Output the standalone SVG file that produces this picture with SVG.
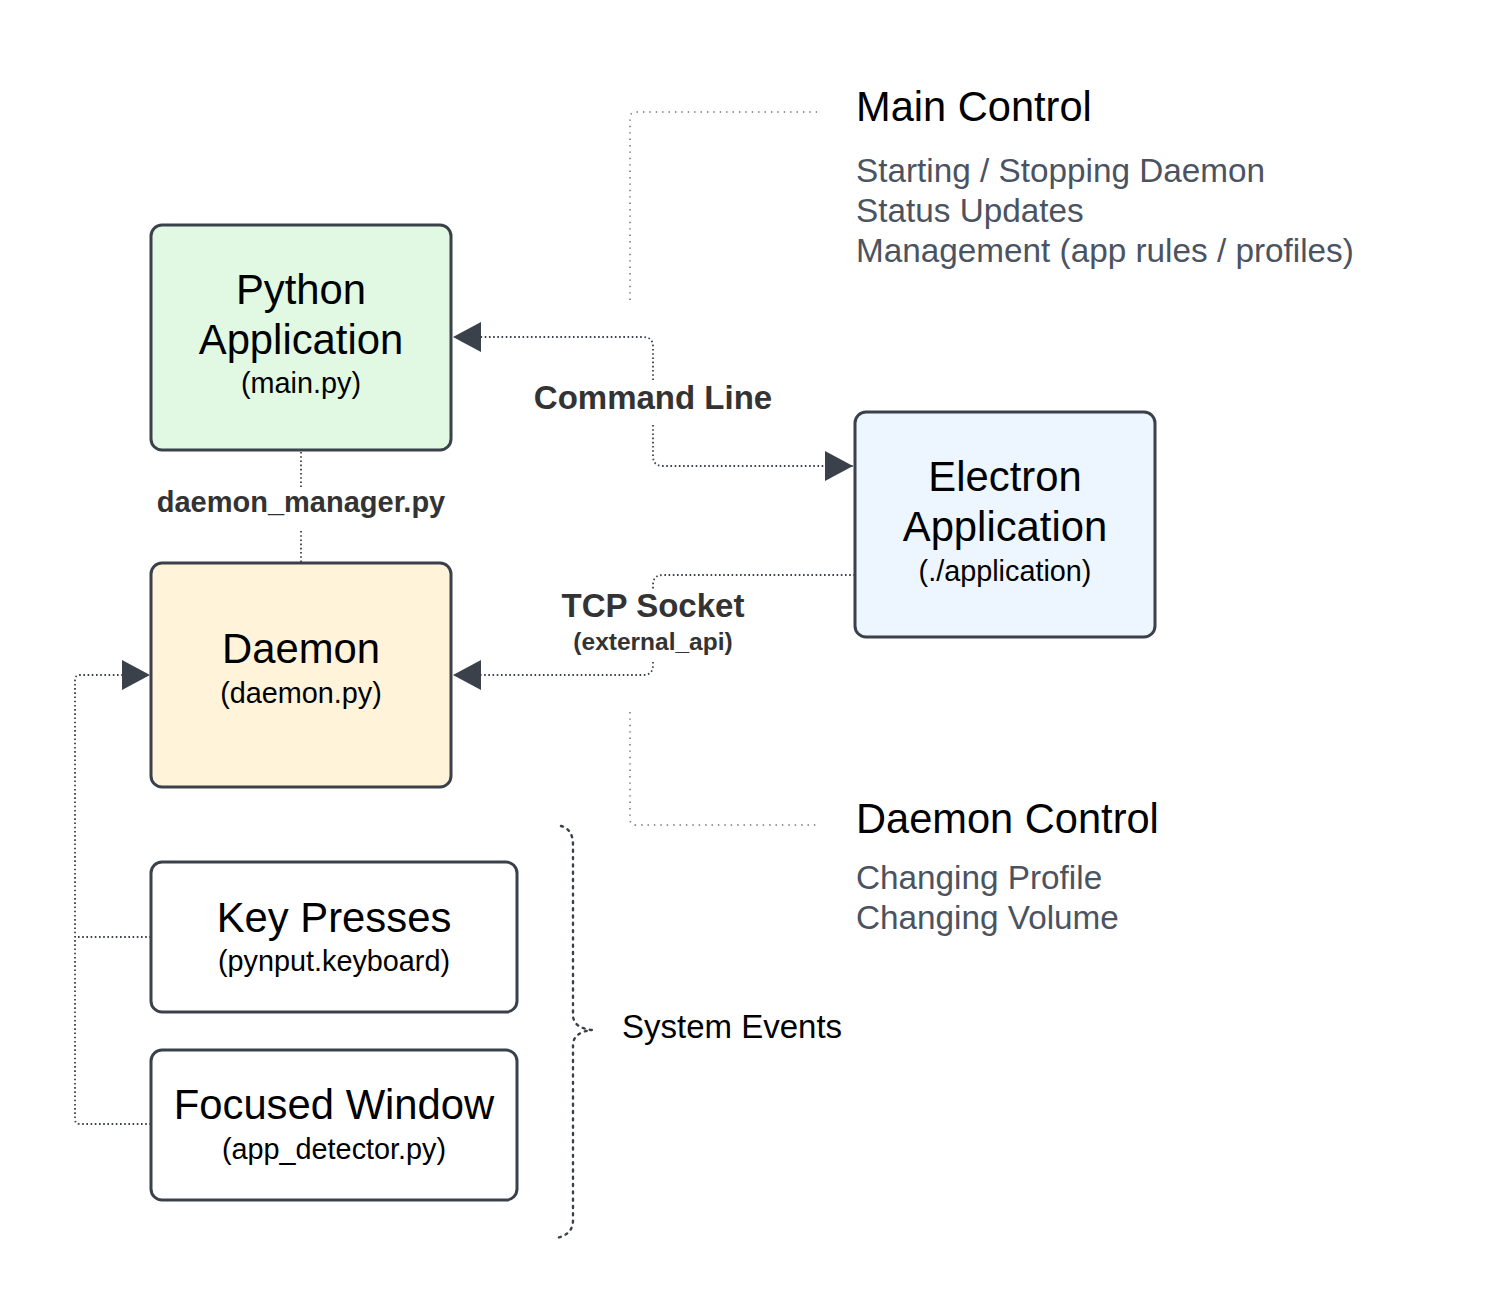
<svg xmlns="http://www.w3.org/2000/svg" width="1493" height="1313" viewBox="0 0 1493 1313">
<style>
.box{stroke:#3a414a;stroke-width:3}
.t{font-family:"Liberation Sans",Arial,sans-serif;fill:#000;text-anchor:middle}
.big{font-size:41.8px}
.sub{font-size:28.8px}
.lbl{font-family:"Liberation Sans",Arial,sans-serif;font-weight:bold;fill:#333;text-anchor:middle}
.hd{font-family:"Liberation Sans",Arial,sans-serif;font-size:41.6px;fill:#000}
.it{font-family:"Liberation Sans",Arial,sans-serif;font-size:33.3px;fill:#4b5361}
.dot{fill:none;stroke:#3a414a;stroke-width:1.8;stroke-dasharray:1.6 2.6}
.dotl{fill:none;stroke:#6b7079;stroke-width:1.5;stroke-dasharray:1.4 5}
.brace{fill:none;stroke:#3a414a;stroke-width:2.4;stroke-dasharray:2 5.3;stroke-linecap:round}
</style>
<defs>
<marker id="arr" markerUnits="userSpaceOnUse" markerWidth="30" markerHeight="32" refX="28" refY="16" orient="auto">
<path d="M0,1 L28,16 L0,31 Z" fill="#3a414a"/>
</marker>
</defs>
<g id="connectors">
<path class="dot" d="M653,380 V347 Q653,337 643,337 H453" marker-end="url(#arr)"/>
<path class="dot" d="M653,425 V456 Q653,466 663,466 H853" marker-end="url(#arr)"/>
<path class="dot" d="M855,575 H663 Q653,575 653,585 V590"/>
<path class="dot" d="M653,662 V665 Q653,675 643,675 H453" marker-end="url(#arr)"/>
<path class="dot" d="M301,452 V487"/>
<path class="dot" d="M301,531 V562"/>
<path class="dot" d="M151,937 H75"/>
<path class="dot" d="M151,1124 H80 Q75,1124 75,1119 V680 Q75,675 80,675 H150" marker-end="url(#arr)"/>
<path class="dotl" d="M630,300 V118 Q630,112 636,112 H820"/>
<path class="dotl" d="M630,712 V819 Q630,825 636,825 H820"/>
<path class="brace" d="M561,826 Q573,829 573,845 V1016 Q574,1028 592,1030 Q574,1032 573,1044 V1220 Q573,1235 556,1238"/>
</g>
<g id="python-app">
<rect class="box" x="151" y="225" width="300" height="225" rx="11" fill="#e1f9e2"/>
<text class="t big" x="301" y="304">Python</text>
<text class="t big" x="301" y="354">Application</text>
<text class="t sub" x="301" y="393">(main.py)</text>
</g>
<g id="daemon">
<rect class="box" x="151" y="563" width="300" height="224" rx="11" fill="#fff3da"/>
<text class="t big" x="301" y="663">Daemon</text>
<text class="t sub" x="301" y="703">(daemon.py)</text>
</g>
<g id="electron-app">
<rect class="box" x="855" y="412" width="300" height="225" rx="11" fill="#edf5fe"/>
<text class="t big" x="1005" y="491">Electron</text>
<text class="t big" x="1005" y="541">Application</text>
<text class="t sub" x="1005" y="581">(./application)</text>
</g>
<g id="key-presses">
<rect class="box" x="151" y="862" width="366" height="150" rx="11" fill="#fff"/>
<text class="t big" x="334" y="932">Key Presses</text>
<text class="t sub" x="334" y="971">(pynput.keyboard)</text>
</g>
<g id="focused-window">
<rect class="box" x="151" y="1050" width="366" height="150" rx="11" fill="#fff"/>
<text class="t big" x="334" y="1119">Focused Window</text>
<text class="t sub" x="334" y="1159">(app_detector.py)</text>
</g>
<g id="labels">
<text class="lbl" x="653" y="409" font-size="33">Command Line</text>
<text class="lbl" x="653" y="617" font-size="33">TCP Socket</text>
<text class="lbl" x="653" y="650" font-size="24.5">(external_api)</text>
<text class="lbl" x="301" y="512" font-size="29">daemon_manager.py</text>
<text x="622" y="1038" font-family="Liberation Sans, Arial, sans-serif" font-size="33" fill="#000">System Events</text>
</g>
<g id="main-control">
<text class="hd" x="856" y="121">Main Control</text>
<text class="it" x="856" y="182">Starting / Stopping Daemon</text>
<text class="it" x="856" y="222">Status Updates</text>
<text class="it" x="856" y="262">Management (app rules / profiles)</text>
</g>
<g id="daemon-control">
<text class="hd" x="856" y="833">Daemon Control</text>
<text class="it" x="856" y="889">Changing Profile</text>
<text class="it" x="856" y="929">Changing Volume</text>
</g>
</svg>
